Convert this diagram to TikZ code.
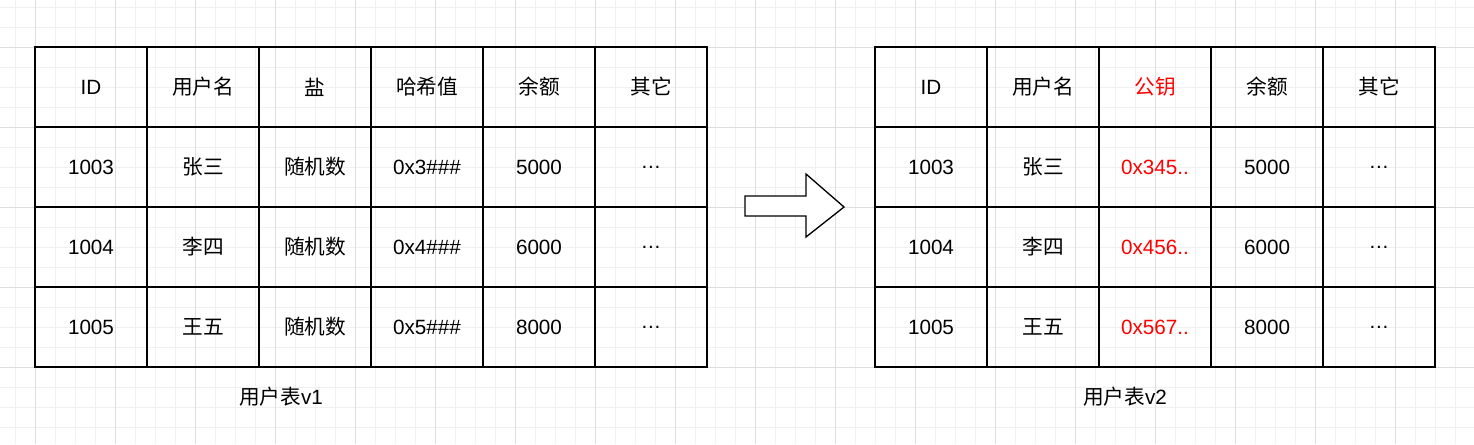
\documentclass[tikz,border=0pt]{standalone}
\usepackage{fontspec}
\setmainfont{Liberation Sans}
\newfontfamily\cjk{Noto Sans CJK SC}
\usepackage{xcolor}
\definecolor{gridminor}{RGB}{240,240,240}
\definecolor{gridmajor}{RGB}{222,222,222}
\definecolor{keyred}{RGB}{255,0,0}
\newcommand{\dotsthree}{.\kern0.5pt.\kern0.5pt.}
\begin{document}
\begin{tikzpicture}[x=0.75pt,y=0.75pt,yscale=-1,xscale=1,
  cell/.style={draw=black,line width=1.5pt,minimum width=84pt,minimum height=60pt,outer sep=0pt,inner sep=0pt,font=\fontsize{15.5}{17}\selectfont,anchor=center},
  redcell/.style={cell,text=keyred},
  caption/.style={font=\fontsize{15.5}{17}\selectfont,inner sep=0.75pt}]
  \useasboundingbox (0,0) rectangle (1474,444);
  %Shape: Grid
  \foreach \gx in {15,35,...,1474} \draw[gridminor] (\gx,0) -- (\gx,444);
  \foreach \gy in {7,27,...,444} \draw[gridminor] (0,\gy) -- (1474,\gy);
  \foreach \gx in {35,115,...,1474} \draw[gridmajor] (\gx,0) -- (\gx,444);
  \foreach \gy in {47,127,...,444} \draw[gridmajor] (0,\gy) -- (1474,\gy);

  %Table v1
  \node[cell] (a11) at (91,87) {ID};
  \node[cell] (a12) at (203,87) {\cjk 用户名};
  \node[cell] (a13) at (315,87) {\cjk 盐};
  \node[cell] (a14) at (427,87) {\cjk 哈希值};
  \node[cell] (a15) at (539,87) {\cjk 余额};
  \node[cell] (a16) at (651,87) {\cjk 其它};
  \node[cell] (a21) at (91,167) {1003};
  \node[cell] (a22) at (203,167) {\cjk 张三};
  \node[cell] (a23) at (315,167) {\cjk 随机数};
  \node[cell] (a24) at (427,167) {0x3\#\#\#};
  \node[cell] (a25) at (539,167) {5000};
  \node[cell] (a26) at (651,167) {\dotsthree};
  \node[cell] (a31) at (91,247) {1004};
  \node[cell] (a32) at (203,247) {\cjk 李四};
  \node[cell] (a33) at (315,247) {\cjk 随机数};
  \node[cell] (a34) at (427,247) {0x4\#\#\#};
  \node[cell] (a35) at (539,247) {6000};
  \node[cell] (a36) at (651,247) {\dotsthree};
  \node[cell] (a41) at (91,327) {1005};
  \node[cell] (a42) at (203,327) {\cjk 王五};
  \node[cell] (a43) at (315,327) {\cjk 随机数};
  \node[cell] (a44) at (427,327) {0x5\#\#\#};
  \node[cell] (a45) at (539,327) {8000};
  \node[cell] (a46) at (651,327) {\dotsthree};

  %Table v2
  \node[cell] (b11) at (931,87) {ID};
  \node[cell] (b12) at (1043,87) {\cjk 用户名};
  \node[redcell] (b13) at (1155,87) {\cjk 公钥};
  \node[cell] (b14) at (1267,87) {\cjk 余额};
  \node[cell] (b15) at (1379,87) {\cjk 其它};
  \node[cell] (b21) at (931,167) {1003};
  \node[cell] (b22) at (1043,167) {\cjk 张三};
  \node[redcell] (b23) at (1155,167) {0x345..};
  \node[cell] (b24) at (1267,167) {5000};
  \node[cell] (b25) at (1379,167) {\dotsthree};
  \node[cell] (b31) at (931,247) {1004};
  \node[cell] (b32) at (1043,247) {\cjk 李四};
  \node[redcell] (b33) at (1155,247) {0x456..};
  \node[cell] (b34) at (1267,247) {6000};
  \node[cell] (b35) at (1379,247) {\dotsthree};
  \node[cell] (b41) at (931,327) {1005};
  \node[cell] (b42) at (1043,327) {\cjk 王五};
  \node[redcell] (b43) at (1155,327) {0x567..};
  \node[cell] (b44) at (1267,327) {8000};
  \node[cell] (b45) at (1379,327) {\dotsthree};

  %Shape: Right Arrow
  \draw[fill=white,line width=1pt] (745,196) -- (806,196) -- (806,174) -- (844,207) -- (806,237) -- (806,216) -- (745,216) -- cycle;

  % Text Node
  \node[caption] (cap1) at (281,397) {{\cjk 用户表}v1};
  % Text Node
  \node[caption] (cap2) at (1125,397) {{\cjk 用户表}v2};
\end{tikzpicture}
\end{document}
